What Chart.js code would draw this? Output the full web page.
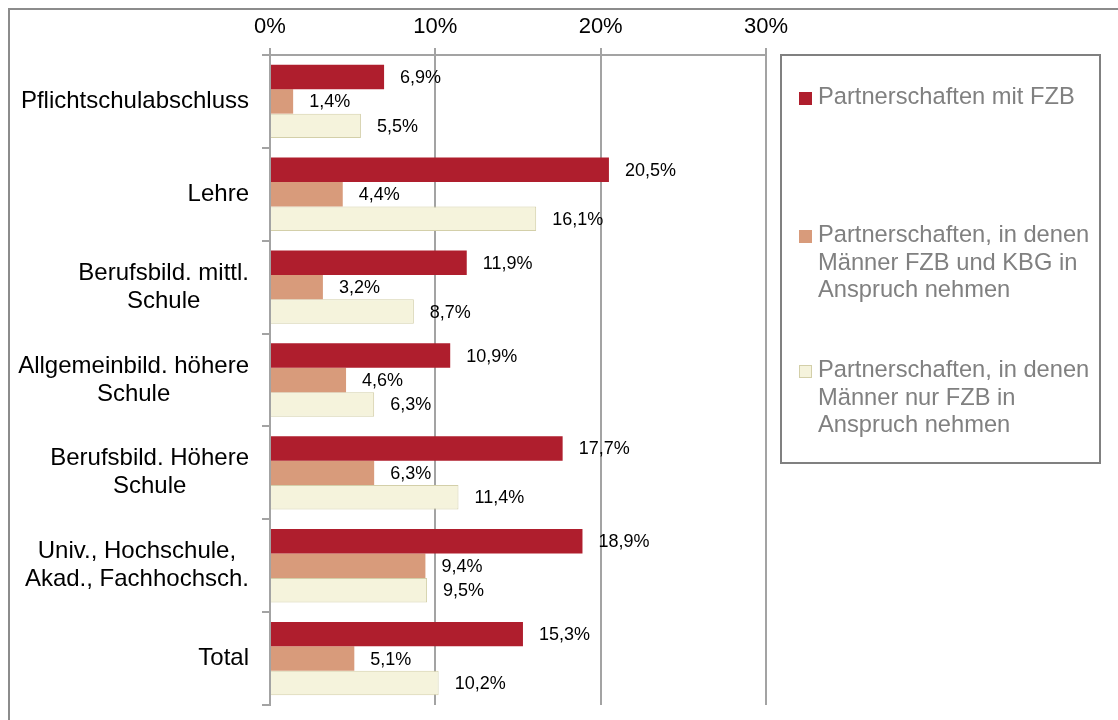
<!DOCTYPE html>
<html lang="de">
<head>
<meta charset="utf-8">
<script src="https://cdn.jsdelivr.net/npm/chart.js@4/dist/chart.umd.min.js"></script>
<style>
  html, body { margin: 0; padding: 0; background: #fff; }
  body { width: 1118px; height: 720px; position: relative; overflow: hidden; font-family: "Liberation Sans", Arial, sans-serif; }
  #frame { position: absolute; left: 8px; top: 8px; width: 1200px; height: 800px; border: 2px solid #8c8c8c; }
  #chart { position: absolute; left: 0; top: 0; }
  #legend { position: absolute; left: 780px; top: 54px; width: 317px; height: 406px; border: 2px solid #808080; }
  .item { position: absolute; left: 17px; width: 290px; font-size: 23.7px; line-height: 27.5px; color: #808080; padding-left: 19px; }
  .item .sw { position: absolute; left: 0; top: 9px; width: 13px; height: 13px; box-sizing: border-box; }
</style>
</head>
<body>
<div id="frame"></div>
<canvas id="chart" width="1118" height="720"></canvas>
<div id="legend"></div>
<script>
// Daten
const categories = [
  "Pflichtschulabschluss",
  "Lehre",
  ["Berufsbild. mittl.", "Schule"],
  ["Allgemeinbild. höhere", "Schule"],
  ["Berufsbild. Höhere", "Schule"],
  ["Univ., Hochschule,", "Akad., Fachhochsch."],
  "Total"
];
const seriesNames = [
  "Partnerschaften mit FZB",
  "Partnerschaften, in denen Männer FZB und KBG in Anspruch nehmen",
  "Partnerschaften, in denen Männer nur FZB in Anspruch nehmen"
];
const mitFZB    = [6.9, 20.5, 11.9, 10.9, 17.7, 18.9, 15.3];
const fzbUndKBG = [1.4, 4.4, 3.2, 4.6, 6.3, 9.4, 5.1];
const nurFZB    = [5.5, 16.1, 8.7, 6.3, 11.4, 9.5, 10.2];
const xTicks    = [0, 10, 20, 30];

const COLORS  = ["#AF1E2D", "#D89B7B", "#F5F3DC"];
const BORDERS = ["#AF1E2D", "#D89B7B", "#D3CFA9"];
const GRID = "#a3a3a3";
const FONT = "'Liberation Sans', Arial, sans-serif";

const fmt = (v) => v.toFixed(1).replace(".", ",") + "%";

// Kategorie-Beschriftungen: Block rechtsbündig, Zeilen zentriert (wie Excel)
const categoryLabels = {
  id: "categoryLabels",
  afterDraw(chart) {
    const { ctx } = chart;
    const y = chart.scales.y;
    ctx.save();
    ctx.font = "24px " + FONT;
    ctx.fillStyle = "#000";
    ctx.textAlign = "center";
    ctx.textBaseline = "middle";
    categories.forEach((lab, i) => {
      const lines = Array.isArray(lab) ? lab : [lab];
      const w = Math.max(...lines.map(l => ctx.measureText(l).width));
      const cx = 249 - w / 2;
      const cy = y.getPixelForValue(i);
      const lh = 28;
      lines.forEach((l, k) => {
        ctx.fillText(l, cx, cy + (k - (lines.length - 1) / 2) * lh);
      });
    });
    ctx.restore();
  }
};

// Werte neben den Balken
const valueLabels = {
  id: "valueLabels",
  afterDatasetsDraw(chart) {
    const { ctx } = chart;
    ctx.save();
    ctx.font = "18px " + FONT;
    ctx.fillStyle = "#000";
    ctx.textAlign = "left";
    ctx.textBaseline = "middle";
    chart.data.datasets.forEach((ds, di) => {
      chart.getDatasetMeta(di).data.forEach((el, i) => {
        ctx.fillText(fmt(ds.data[i]), el.x + 16, el.y + 1);
      });
    });
    ctx.restore();
  }
};

const chart = new Chart(document.getElementById("chart"), {
  type: "bar",
  data: {
    labels: categories,
    datasets: [mitFZB, fzbUndKBG, nurFZB].map((d, i) => ({
      label: seriesNames[i],
      data: d,
      backgroundColor: COLORS[i],
      borderColor: BORDERS[i],
      borderWidth: i === 2 ? 1 : 0,
      categoryPercentage: 0.79,
      barPercentage: 1
    }))
  },
  options: {
    indexAxis: "y",
    responsive: false,
    animation: false,
    layout: { padding: { left: 0, right: 352, top: 0, bottom: 15 } },
    plugins: { legend: { display: false }, tooltip: { enabled: false } },
    scales: {
      x: {
        position: "top",
        min: 0, max: 30,
        afterBuildTicks: (s) => { s.ticks = xTicks.map(v => ({ value: v })); },
        afterFit: (s) => { s.height = 55; },
        ticks: {
          callback: (v) => v + "%",
          color: "#000",
          font: { family: FONT, size: 22 },
          padding: 8
        },
        grid: { color: GRID, lineWidth: 2, tickLength: 7 },
        border: { display: true, color: GRID, width: 2 }
      },
      y: {
        afterFit: (s) => { s.width = 270; },
        ticks: { display: false },
        grid: { color: GRID, lineWidth: 2, tickLength: 8, drawOnChartArea: false, offset: true },
        border: { display: true, color: GRID, width: 2 }
      }
    }
  },
  plugins: [categoryLabels, valueLabels]
});

// Legende
const legendTops = [27, 165, 300];
const legend = document.getElementById("legend");
legend.innerHTML = seriesNames.map((name, i) => `
  <div class="item" style="top:${legendTops[i]}px">
    <span class="sw" style="background:${COLORS[i]};border:1px solid ${BORDERS[i]}"></span>${name}
  </div>`).join("");
</script>
</body>
</html>
